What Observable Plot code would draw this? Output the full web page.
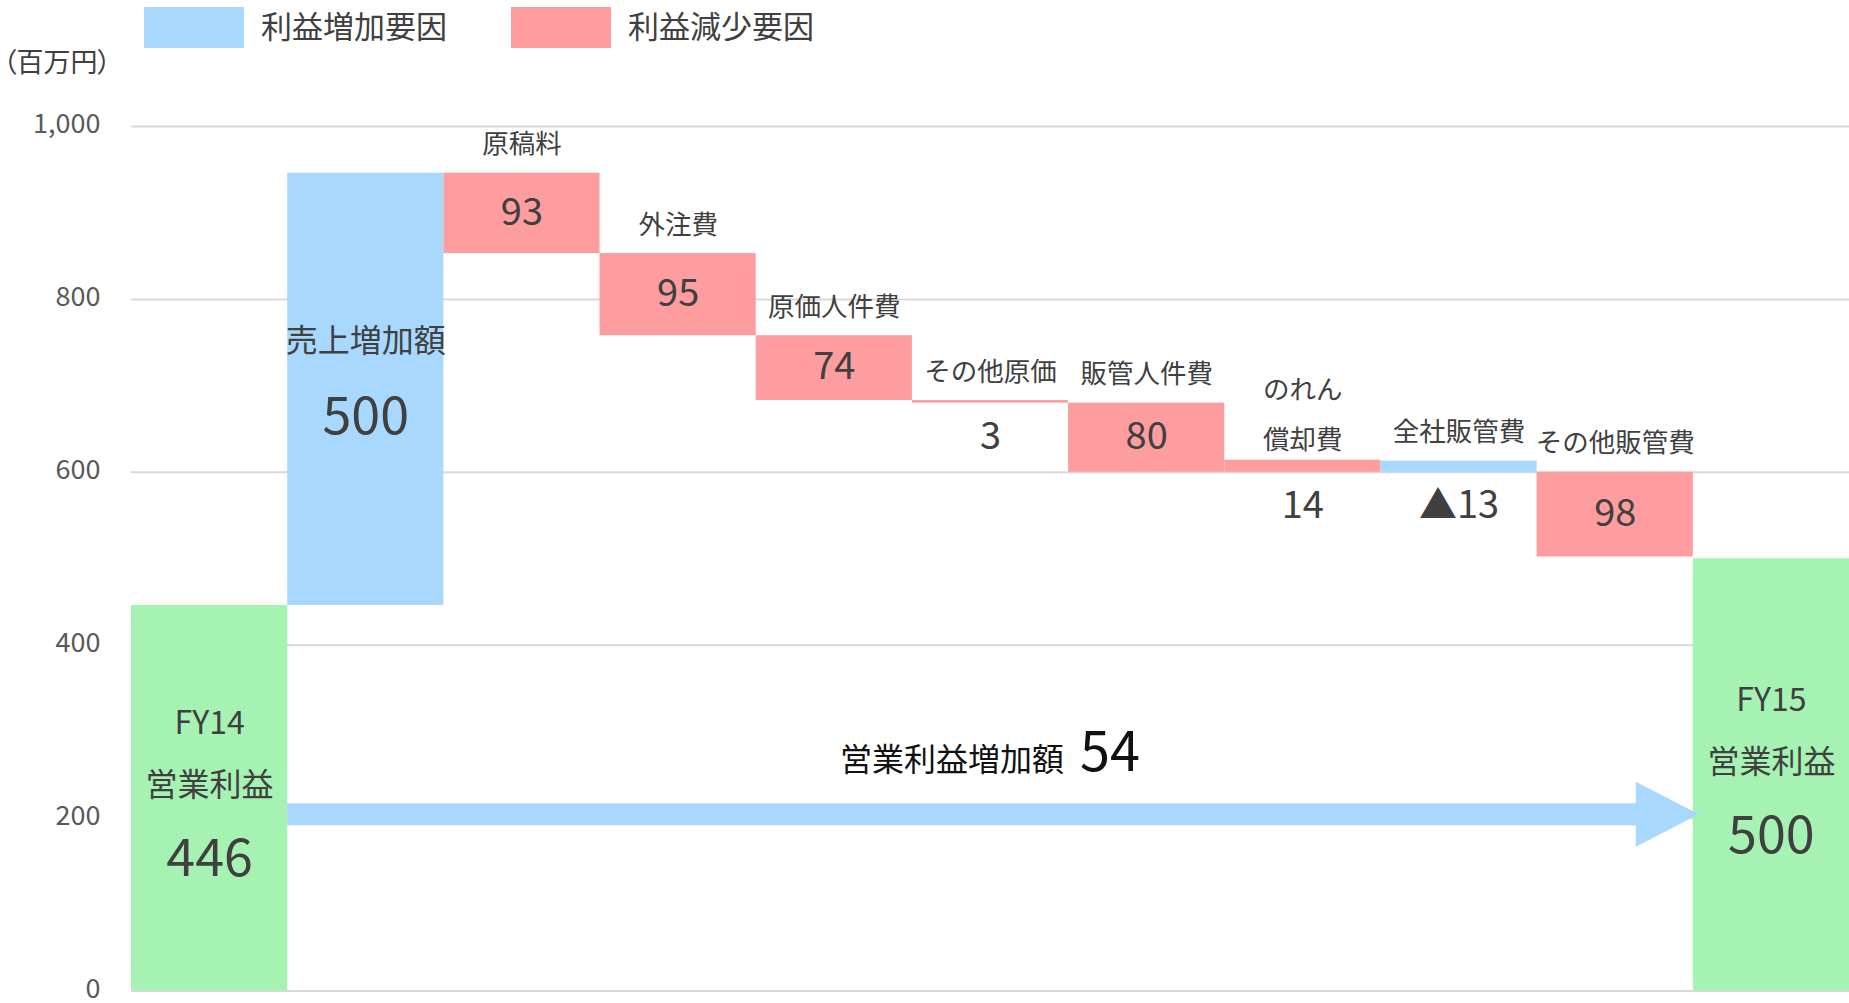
<!DOCTYPE html>
<html>
<head>
<meta charset="utf-8">
<script src="https://cdn.jsdelivr.net/npm/d3@7"></script>
<script src="https://cdn.jsdelivr.net/npm/@observablehq/plot@0.6"></script>
<style>
  body { margin: 0; background: #fff; font-family: 'Noto Sans CJK JP', 'Noto Sans', sans-serif; }
  #wrap { position: relative; width: 1849px; height: 1003px; overflow: hidden; }
  .sw { position: absolute; top: 7px; width: 100px; height: 41px; }
  .lg { position: absolute; top: 4px; height: 41px; line-height: 41px; font-size: 31px; color: #404040; white-space: nowrap; }
  #unit { position: absolute; left: 3px; top: 44px; font-size: 27px; line-height: 33px; color: #404040; font-feature-settings: "palt"; }
  #chart { position: absolute; left: 0; top: 80px; }
</style>
</head>
<body>
<div id="wrap">
  <div id="legend"></div>
  <div id="unit"></div>
  <div id="chart"></div>
</div>
<script>
// ---- data ----
const categories = ["FY14営業利益", "売上増加額", "原稿料", "外注費", "原価人件費", "その他原価", "販管人件費", "のれん償却費", "全社販管費", "その他販管費", "FY15営業利益"];
const catLabels  = ["FY14\n営業利益", "売上増加額", "原稿料", "外注費", "原価人件費", "その他原価", "販管人件費", "のれん\n償却費", "全社販管費", "その他販管費", "FY15\n営業利益"];
const valueText  = ["446", "500", "93", "95", "74", "3", "80", "14", "▲13", "98", "500"];
const barLow     = [0, 446, 853, 758, 683, 680, 600, 600, 600, 502, 0];
const barHigh    = [446, 946, 946, 853, 758, 683, 680, 614, 613, 600, 500];
const barKind    = ["total", "increase", "decrease", "decrease", "decrease", "decrease", "decrease", "decrease", "increase", "decrease", "total"];
const yTicks     = [0, 200, 400, 600, 800, 1000];
const legendLabels = ["利益増加要因", "利益減少要因"];
const unitLabel  = "（百万円）";
const changeLabel = "営業利益増加額";
const changeValue = 54;
const arrowLevel = 204;

// ---- styles ----
const colors = { increase: "#A8D8FE", decrease: "#FE9D9F", total: "#A6F2B3" };
const textColor = "#404040";
const font = "'Noto Sans CJK JP', 'Noto Sans', sans-serif";

// legend (HTML above the SVG)
const legend = document.getElementById("legend");
const legendKinds = ["increase", "decrease"];
const legendSwatchX = [144, 511];
const legendTextX = [261, 628];
legendLabels.forEach((t, i) => {
  const s = document.createElement("div");
  s.className = "sw"; s.style.left = legendSwatchX[i] + "px"; s.style.background = colors[legendKinds[i]];
  legend.appendChild(s);
  const l = document.createElement("div");
  l.className = "lg"; l.style.left = legendTextX[i] + "px"; l.textContent = t;
  legend.appendChild(l);
});
document.getElementById("unit").textContent = unitLabel;

const data = categories.map((c, i) => ({
  cat: c, label: catLabels[i], value: valueText[i],
  low: barLow[i], high: barHigh[i], kind: barKind[i],
  mid: (barLow[i] + barHigh[i]) / 2
}));
const totals = data.filter(d => d.kind === "total");
const bigStep = data.filter(d => d.kind !== "total" && d.high - d.low > 200);
const steps = data.filter(d => d.kind !== "total" && d.high - d.low <= 200);
const stepsOneLine = steps.filter(d => !d.label.includes("\n"));
const stepsMultiLine = steps.filter(d => d.label.includes("\n"));
const stepsTall = steps.filter(d => d.high - d.low > 30);
const stepsThin = steps.filter(d => d.high - d.low <= 30);

function arrowMark(index, scales, values, dimensions) {
  const xf = scales.x, yf = scales.y;
  const first = categories[0], last = categories[categories.length - 1];
  const bw = (xf(last) - xf(first)) / (categories.length - 1);
  const x0 = xf(first) + bw;
  const xEnd = xf(last);
  const xt = xEnd + 6, xb = xt - 63;
  const yc = yf(arrowLevel);
  const hs = 11, hh = 32.5;
  const g = d3.create("svg:g");
  g.append("polygon")
    .attr("points", [[x0, yc - hs], [xb, yc - hs], [xb, yc - hh], [xt, yc], [xb, yc + hh], [xb, yc + hs], [x0, yc + hs]].map(p => p.join(",")).join(" "))
    .attr("fill", colors.increase);
  const t = g.append("text")
    .attr("x", (x0 + xEnd) / 2)
    .attr("y", yc - 43)
    .attr("text-anchor", "middle")
    .attr("fill", "#111")
    .attr("font-family", font);
  t.append("tspan").attr("font-size", 32).text(changeLabel);
  t.append("tspan").attr("font-size", 54).attr("dx", 16).text(String(changeValue));
  return g.node();
}

const chart = Plot.plot({
  width: 1849,
  height: 923,
  marginLeft: 131,
  marginRight: 0,
  marginTop: 46,
  marginBottom: 12.5,
  style: { fontFamily: font, color: "#595959", background: "transparent" },
  x: { domain: categories, padding: 0, round: false, axis: null },
  y: { domain: [0, 1000], axis: null },
  marks: [
    Plot.gridY(yTicks, { stroke: "#d9d9d9", strokeOpacity: 1, strokeWidth: 2 }),
    Plot.barY(data, { x: "cat", y1: "low", y2: "high", fill: d => colors[d.kind] }),
    Plot.axisY(yTicks, { tickSize: 0, tickPadding: 31, fontSize: 27, dy: -2, tickFormat: d3.format(","), fill: "#595959", label: null }),
    // totals
    Plot.text(totals, { x: "cat", y: "mid", text: d => d.label.split("\n")[0], dy: -74, fontSize: 32, fill: textColor }),
    Plot.text(totals, { x: "cat", y: "mid", text: d => d.label.split("\n")[1], dy: -12, fontSize: 32, fill: textColor }),
    Plot.text(totals, { x: "cat", y: "mid", text: "value", dy: 61, fontSize: 52, fill: textColor }),
    // sales increase
    Plot.text(bigStep, { x: "cat", y: "mid", text: "label", dy: -48, fontSize: 32, fill: textColor }),
    Plot.text(bigStep, { x: "cat", y: "mid", text: "value", dy: 28, fontSize: 52, fill: textColor }),
    // step labels
    Plot.text(stepsOneLine, { x: "cat", y: "high", text: "label", lineAnchor: "bottom", dy: -20, fontSize: 26.5, fill: textColor }),
    Plot.text(stepsMultiLine, { x: "cat", y: "high", text: "label", lineAnchor: "bottom", dy: -11, lineHeight: 1.9, fontSize: 26.5, fill: textColor }),
    Plot.text(stepsTall, { x: "cat", y: "mid", text: "value", dy: -1, fontSize: 38, fill: textColor }),
    Plot.text(stepsThin, { x: "cat", y: "low", text: "value", dy: 34, fontSize: 38, fill: textColor }),
    arrowMark
  ]
});
document.getElementById("chart").appendChild(chart);
</script>
</body>
</html>
